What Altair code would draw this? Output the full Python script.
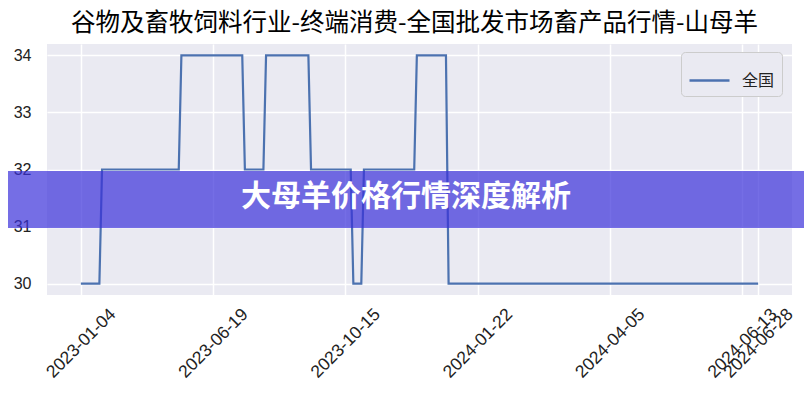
import altair as alt
import pandas as pd

# Corner points of the price line (point index -> price)
corner_index = [0, 7, 8, 37, 38, 61, 62, 69, 70, 86, 87, 102, 103, 106, 107, 126, 127, 138, 139, 256]
corner_price = [30, 30, 32, 32, 34, 34, 32, 32, 34, 34, 32, 32, 30, 30, 32, 32, 34, 34, 30, 30]
series_name = "全国"

tick_index = [0, 50, 100, 150, 200, 250, 256]
tick_label = ["2023-01-04", "2023-06-19", "2023-10-15", "2024-01-22",
              "2024-04-05", "2024-06-13", "2024-06-28"]
y_ticks = [30, 31, 32, 33, 34]

title_text = ["谷物及畜牧饲料行业-终端消费-全国批发市场畜产品行情-山母羊"]
banner_text = ["大母羊价格行情深度解析"]

df = pd.DataFrame({
    "idx": corner_index,
    "price": corner_price,
    "series": [series_name] * len(corner_index),
})
banner_df = pd.DataFrame({"label": banner_text})
title_df = pd.DataFrame({"label": title_text})

W, H = 745, 251

label_expr = ("[" + ",".join(f"'{s}'" for s in tick_label) + "][indexof(["
              + ",".join(str(i) for i in tick_index) + "], datum.value)]")

line = alt.Chart(df).mark_line(strokeWidth=2.2, clip=False).encode(
    x=alt.X("idx:Q",
            scale=alt.Scale(domain=[-12.8, 268.8], nice=False, zero=False),
            axis=alt.Axis(values=tick_index, labelExpr=label_expr, labelAngle=-45,
                          labelAlign="center", labelBaseline="middle", labelPadding=48,
                          tickSize=0, domain=False, grid=True, gridColor="white",
                          gridWidth=1.5, labelFontSize=17.5, labelFont="Liberation Sans",
                          labelColor="#222222", labelOverlap=False, labelBound=False,
                          labelFlush=False, title=None)),
    y=alt.Y("price:Q",
            scale=alt.Scale(domain=[29.8, 34.2], nice=False, zero=False),
            axis=alt.Axis(values=y_ticks, format="d", tickSize=0, domain=False,
                          grid=True, gridColor="white", gridWidth=1.5,
                          labelFontSize=16, labelFont="Liberation Sans",
                          labelColor="#222222", labelPadding=16, title=None)),
    color=alt.Color("series:N", scale=alt.Scale(range=["#4C72B0"]),
                    legend=alt.Legend(title=None, orient="none", legendX=634, legendY=8,
                                      symbolType="stroke", symbolSize=1600,
                                      symbolStrokeWidth=2.5, labelFontSize=16,
                                      labelFont="Noto Sans CJK SC", labelColor="#222222",
                                      fillColor="#EAEAF2", strokeColor="#cccccc",
                                      cornerRadius=4, padding=7, labelOffset=11)),
)

title = alt.Chart(title_df).mark_text(
    font="Noto Sans CJK SC", fontSize=24.5, color="black",
    align="center", baseline="middle"
).encode(text="label:N", x=alt.value(W / 2 - 5), y=alt.value(-20))

rect = alt.Chart(banner_df).mark_rect(color="#3a30da", opacity=0.7, clip=False).encode(
    x=alt.value(-39), x2=alt.value(W + 12), y=alt.value(127), y2=alt.value(184)
)

text = alt.Chart(banner_df).mark_text(
    font="Noto Sans CJK SC", fontWeight="bold", fontSize=30, color="white",
    align="center", baseline="middle"
).encode(text="label:N", x=alt.value(359), y=alt.value(153))

chart = alt.layer(line, title, rect, text).properties(
    width=W, height=H,
    autosize=alt.AutoSizeParams(type="none"),
    padding={"left": 39, "top": 36, "right": 12, "bottom": 97},
).configure_view(fill="#EAEAF2", stroke=None)

chart.save("out.html", embed_options={"renderer": "svg", "actions": False})
